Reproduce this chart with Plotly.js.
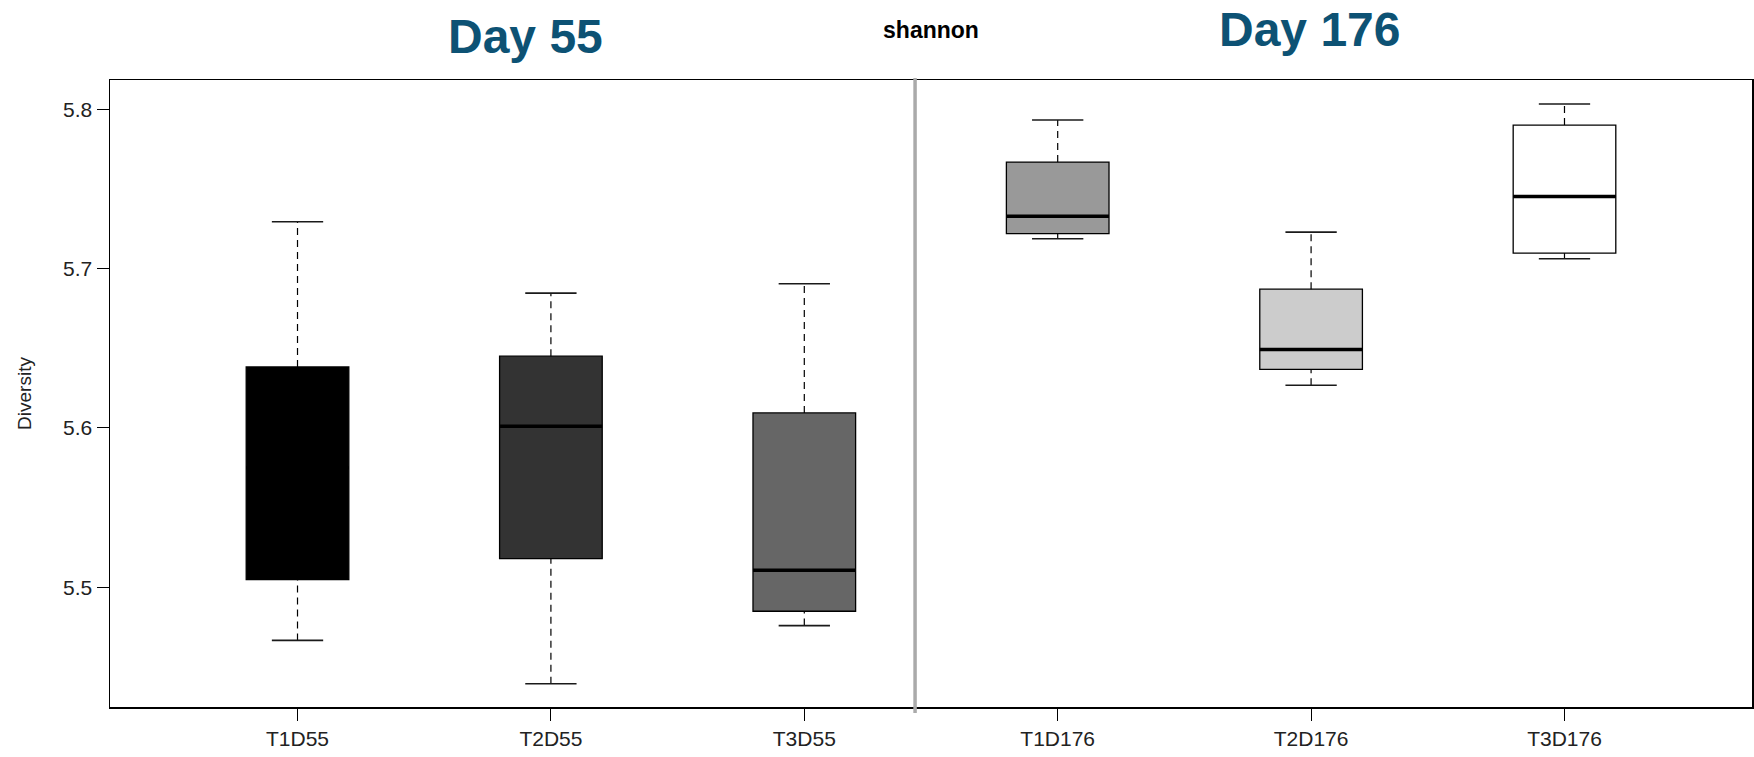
<!DOCTYPE html>
<html>
<head>
<meta charset="utf-8">
<script src="https://cdn.plot.ly/plotly-3.0.1.min.js"></script>
<style>
  html, body { margin: 0; padding: 0; background: #fff; }
  #chart { width: 1754px; height: 757px; }
</style>
</head>
<body>
<div id="chart"></div>
<script>
// Shannon diversity per treatment group, sampled on day 55 and day 176
const groups = ['T1D55', 'T2D55', 'T3D55', 'T1D176', 'T2D176', 'T3D176'];
const lowerWhisker = [5.4666, 5.4394, 5.4759, 5.7187, 5.6268, 5.7062];
const q1           = [5.5048, 5.5180, 5.4849, 5.7219, 5.6367, 5.7097];
const median       = [5.5750, 5.6011, 5.5106, 5.7328, 5.6492, 5.7453];
const q3           = [5.6383, 5.6450, 5.6094, 5.7669, 5.6871, 5.7901];
const upperWhisker = [5.7294, 5.6846, 5.6905, 5.7933, 5.7229, 5.8033];
const yTicks = [5.5, 5.6, 5.7, 5.8];

// grey ramp used for the box fills, one per group
const fills = ['#000000', '#333333', '#666666', '#999999', '#cccccc', '#ffffff'];

const BOX_W = 0.405;          // box width in x units
const CAP_W = BOX_W / 2;      // whisker cap width
const FONT = 'Liberation Sans, Arial, Helvetica, sans-serif';

const pos = groups.map((_, i) => i + 1);
const traces = [];

// boxes (whiskers are drawn separately so they can be dashed)
groups.forEach((g, i) => {
  traces.push({
    type: 'box',
    name: g,
    x: [pos[i]],
    q1: [q1[i]],
    median: [median[i]],
    q3: [q3[i]],
    lowerfence: [q1[i]],
    upperfence: [q3[i]],
    width: BOX_W,
    whiskerwidth: 0,
    fillcolor: fills[i],
    line: { color: '#000000', width: 1.3 },
    boxpoints: false,
    hoverinfo: 'skip',
    showlegend: false
  });
});

// dashed whiskers from the box edges to the extremes, caps and medians
const wx = [], wy = [];
const cx = [], cy = [];
const mx = [], my = [];
groups.forEach((g, i) => {
  wx.push(pos[i], pos[i], null, pos[i], pos[i], null);
  wy.push(q3[i], upperWhisker[i], null, lowerWhisker[i], q1[i], null);
  cx.push(pos[i] - CAP_W / 2, pos[i] + CAP_W / 2, null, pos[i] - CAP_W / 2, pos[i] + CAP_W / 2, null);
  cy.push(upperWhisker[i], upperWhisker[i], null, lowerWhisker[i], lowerWhisker[i], null);
  mx.push(pos[i] - BOX_W / 2, pos[i] + BOX_W / 2, null);
  my.push(median[i], median[i], null);
});

traces.push({
  type: 'scatter', mode: 'lines', x: wx, y: wy,
  line: { color: '#000000', width: 1.2, dash: '7px,5px' },
  hoverinfo: 'skip', showlegend: false
});
traces.push({
  type: 'scatter', mode: 'lines', x: cx, y: cy,
  line: { color: '#1a1a1a', width: 1.6 },
  hoverinfo: 'skip', showlegend: false
});
// thick median bars
traces.push({
  type: 'scatter', mode: 'lines', x: mx, y: my,
  line: { color: '#000000', width: 3.5 },
  hoverinfo: 'skip', showlegend: false
});

const layout = {
  width: 1754,
  height: 757,
  margin: { l: 110, r: 2, t: 80, b: 50 },
  paper_bgcolor: '#ffffff',
  plot_bgcolor: '#ffffff',
  showlegend: false,
  boxmode: 'overlay',
  font: { family: FONT, color: '#222222' },
  title: {
    text: '<b>shannon</b>',
    font: { family: FONT, size: 23, color: '#000000' },
    x: 0.5, xref: 'paper', xanchor: 'center',
    y: 1 - 30 / 757, yref: 'container', yanchor: 'middle'
  },
  xaxis: {
    range: [0.26, 6.74],
    tickmode: 'array',
    tickvals: pos,
    ticktext: groups,
    ticks: 'outside', ticklen: 12, tickwidth: 1, tickcolor: '#000000',
    showline: true, mirror: true, linecolor: '#000000', linewidth: 1.5,
    showgrid: false, zeroline: false,
    tickfont: { family: FONT, size: 21, color: '#222222' }
  },
  yaxis: {
    range: [5.4248, 5.8184],
    tickmode: 'array',
    tickvals: yTicks,
    ticktext: yTicks.map(v => v.toFixed(1)),
    ticks: 'outside', ticklen: 12, tickwidth: 1, tickcolor: '#000000',
    showline: true, mirror: true, linecolor: '#000000', linewidth: 1.5,
    showgrid: false, zeroline: false,
    tickfont: { family: FONT, size: 21, color: '#222222' },
    title: { text: 'Diversity', font: { family: FONT, size: 19, color: '#222222' }, standoff: 26 }
  },
  shapes: [
    // separator between the two sampling days
    {
      type: 'line', xref: 'paper', yref: 'paper',
      x0: 0.4903, x1: 0.4903, y0: -0.0096, y1: 1.003,
      line: { color: '#aaaaaa', width: 3.5 }
    }
  ],
  annotations: [
    {
      text: '<b>Day 55</b>', xref: 'paper', yref: 'paper',
      x: 0.253, y: 1.0686, xanchor: 'center', yanchor: 'middle',
      showarrow: false,
      font: { family: FONT, size: 48, color: '#0d5274' }
    },
    {
      text: '<b>Day 176</b>', xref: 'paper', yref: 'paper',
      x: 0.7308, y: 1.08, xanchor: 'center', yanchor: 'middle',
      showarrow: false,
      font: { family: FONT, size: 48, color: '#0d5274' }
    }
  ]
};

Plotly.newPlot('chart', traces, layout, { staticPlot: true, displayModeBar: false });
</script>
</body>
</html>
